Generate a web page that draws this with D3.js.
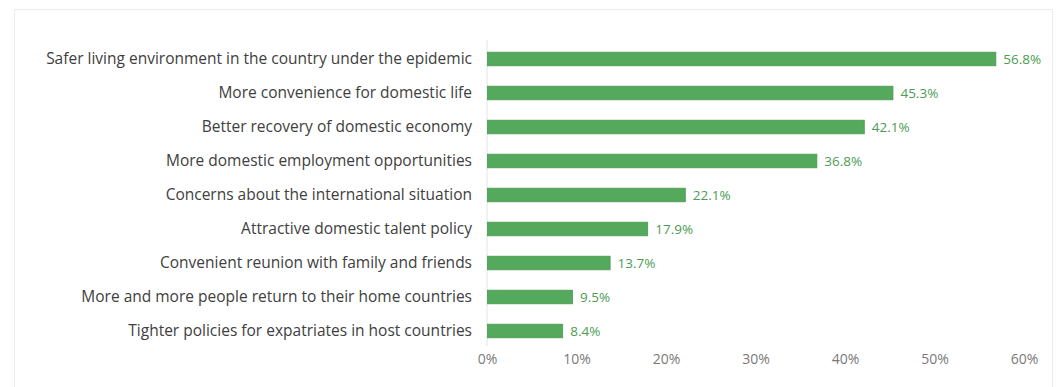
<!DOCTYPE html>
<html>
<head>
<meta charset="utf-8">
<script src="https://cdn.jsdelivr.net/npm/d3@7"></script>
<style>
  html, body { margin: 0; padding: 0; background: #ffffff; }
  svg { display: block; }
</style>
</head>
<body>
<svg id="chart" width="1062" height="387"></svg>
<script>
// Reasons for returning home, share of respondents (%)
const reasons = [
  "Safer living environment in the country under the epidemic",
  "More convenience for domestic life",
  "Better recovery of domestic economy",
  "More domestic employment opportunities",
  "Concerns about the international situation",
  "Attractive domestic talent policy",
  "Convenient reunion with family and friends",
  "More and more people return to their home countries",
  "Tighter policies for expatriates in host countries"
];
const shares = [56.8, 45.3, 42.1, 36.8, 22.1, 17.9, 13.7, 9.5, 8.4];
const tickValues = [0, 10, 20, 30, 40, 50, 60];

const data = reasons.map((r, i) => ({ reason: r, value: shares[i] }));

const svg = d3.select("#chart");
const font = "'Open Sans', 'Noto Sans', sans-serif";

// card frame
svg.append("rect")
  .attr("x", 14.5).attr("y", 9.5)
  .attr("width", 1038).attr("height", 390)
  .attr("fill", "#ffffff")
  .attr("stroke", "#ececec");

const x = d3.scaleLinear().domain([0, 60]).range([487, 1024]);
const y = d3.scaleBand().domain(reasons).range([42, 348]).paddingInner(0.6).paddingOuter(0.3);

// category axis line
svg.append("line")
  .attr("x1", x(0)).attr("x2", x(0))
  .attr("y1", 40).attr("y2", 346)
  .attr("stroke", "#e3e3e3");

// bars
svg.append("g").selectAll("rect")
  .data(data)
  .join("rect")
  .attr("x", x(0) + 0.5)
  .attr("y", d => y(d.reason))
  .attr("width", d => x(d.value) - x(0))
  .attr("height", y.bandwidth())
  .attr("fill", "#55a95c")
  .attr("stroke", "#4a9a51")
  .attr("stroke-width", 0.8);

// value labels
svg.append("g").selectAll("text")
  .data(data)
  .join("text")
  .attr("x", d => x(d.value) + 8)
  .attr("y", d => y(d.reason) + y.bandwidth() / 2)
  .attr("dy", "0.35em")
  .attr("font-family", font)
  .attr("font-size", 13.5)
  .attr("font-weight", 500)
  .attr("fill", "#4c9c53")
  .text(d => d.value.toFixed(1) + "%");

// category labels
const yAxis = svg.append("g")
  .attr("transform", `translate(${x(0)},0)`)
  .call(d3.axisLeft(y).tickSize(0).tickPadding(15));
yAxis.select(".domain").remove();
yAxis.selectAll("text")
  .attr("font-family", font)
  .attr("font-size", 15.5)
  .attr("fill", "#404040");

// value axis
const xAxis = svg.append("g")
  .attr("transform", `translate(0,347)`)
  .call(d3.axisBottom(x).tickValues(tickValues).tickSize(0).tickPadding(7).tickFormat(d => d + "%"));
xAxis.select(".domain").remove();
xAxis.selectAll("text")
  .attr("font-family", font)
  .attr("font-size", 14)
  .attr("fill", "#7a7a7a");
</script>
</body>
</html>
